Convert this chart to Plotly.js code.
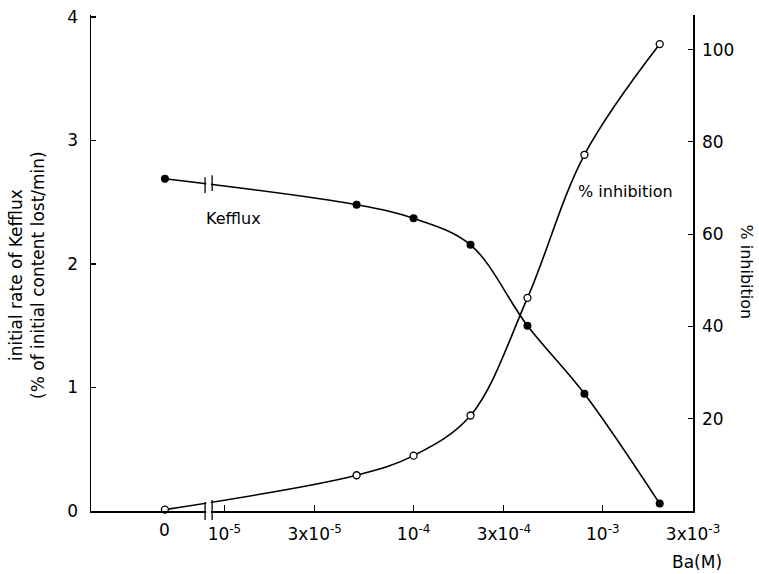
<!DOCTYPE html>
<html>
<head>
<meta charset="utf-8">
<script src="https://cdn.plot.ly/plotly-3.0.1.min.js"></script>
<style>html,body{margin:0;padding:0;background:#fff;}#chart{width:759px;height:574px;}</style>
</head>
<body>
<div id="chart"></div>
<script>
// Ba concentration (M); 0 is drawn left of the axis break
var baConc = [0, 5e-5, 1e-4, 2e-4, 4e-4, 8e-4, 2e-3];
var keffluxRate = [2.69, 2.48, 2.37, 2.155, 1.50, 0.95, 0.06];
var inhibitionPct = [0.3, 7.75, 12.0, 20.7, 46.2, 77.2, 101.2];
var xTickVals = [1e-5, 3e-5, 1e-4, 3e-4, 1e-3, 3e-3];
var xTickText = ['10<sup>-5</sup>', '3x10<sup>-5</sup>', '10<sup>-4</sup>', '3x10<sup>-4</sup>', '10<sup>-3</sup>', '3x10<sup>-3</sup>'];
var leftTicks = [0, 1, 2, 3, 4];
var rightTicks = [20, 40, 60, 80, 100];

// display position used for the zero concentration (left of the break)
var ZERO_POS = 4.85e-6;
var xPlot = baConc.map(function (c) { return c === 0 ? ZERO_POS : c; });

var FONT = 'DejaVu Sans, sans-serif';
var TS = 17;

var traces = [
  {
    x: xPlot, y: keffluxRate, xaxis: 'x', yaxis: 'y',
    mode: 'lines+markers', type: 'scatter', name: 'Kefflux',
    line: {color: '#000', width: 1.6, shape: 'spline', smoothing: 1},
    marker: {symbol: 'circle', size: 8, color: '#000'},
    cliponaxis: false
  },
  {
    x: xPlot, y: inhibitionPct, xaxis: 'x', yaxis: 'y2',
    mode: 'lines+markers', type: 'scatter', name: '% inhibition',
    line: {color: '#000', width: 1.6, shape: 'spline', smoothing: 1},
    marker: {symbol: 'circle', size: 7, color: '#fff', line: {color: '#000', width: 1.3}},
    cliponaxis: false
  }
];

var bx0 = 0.1895, bx1 = 0.2012;
function bar(x, y0, y1) {
  return {type: 'line', xref: 'paper', yref: 'paper', x0: x, x1: x, y0: y0, y1: y1,
          line: {color: '#000', width: 1.3}, layer: 'above'};
}
function gap(y0, y1) {
  return {type: 'rect', xref: 'paper', yref: 'paper', x0: bx0 + 0.002, x1: bx1 - 0.002, y0: y0, y1: y1,
          line: {width: 0}, fillcolor: '#fff', layer: 'above'};
}

var layout = {
  width: 759, height: 574,
  margin: {l: 91, r: 66, t: 15, b: 63},
  paper_bgcolor: '#fff', plot_bgcolor: '#fff',
  showlegend: false,
  font: {family: FONT, size: TS, color: '#000'},
  xaxis: {
    type: 'log', range: [-5.705, -2.523],
    tickvals: xTickVals, ticktext: xTickText,
    ticks: 'inside', ticklen: 6, tickwidth: 1.2, tickcolor: '#000',
    showline: true, linecolor: '#000', linewidth: 1.5,
    showgrid: false, zeroline: false,
    tickfont: {family: FONT, size: TS, color: '#000'},
    ticklabelstandoff: 7
  },
  yaxis: {
    range: [0, 4.016], tickvals: leftTicks,
    ticks: 'inside', ticklen: 5, tickwidth: 1.2, tickcolor: '#000',
    showline: true, linecolor: '#000', linewidth: 1.5,
    showgrid: false, zeroline: false,
    tickfont: {family: FONT, size: TS, color: '#000'},
    ticklabelstandoff: 8
  },
  yaxis2: {
    overlaying: 'y', side: 'right',
    range: [0, 107.5], tickvals: rightTicks,
    ticks: 'inside', ticklen: 5, tickwidth: 1.2, tickcolor: '#000',
    showline: true, linecolor: '#000', linewidth: 1.5,
    showgrid: false, zeroline: false,
    tickfont: {family: FONT, size: TS, color: '#000'},
    ticklabelstandoff: 4
  },
  shapes: [
    gap(0.643, 0.672), gap(-0.01, 0.02),
    bar(bx0, 0.641, 0.673), bar(bx1, 0.645, 0.677),
    bar(bx0, -0.018, 0.018), bar(bx1, -0.018, 0.022)
  ],
  annotations: [
    {text: '0', xref: 'x', yref: 'paper', x: Math.log10(ZERO_POS), y: -0.014,
     xanchor: 'center', yanchor: 'top', showarrow: false, font: {family: FONT, size: TS}},
    {text: 'Ba(M)', xref: 'paper', yref: 'paper', x: 1.006, y: -0.103,
     xanchor: 'center', yanchor: 'middle', showarrow: false, font: {family: FONT, size: TS}},
    {text: 'Kefflux', xref: 'paper', yref: 'paper', x: (204 - 91) / 601.5, y: (511 - 218) / 496,
     xanchor: 'left', yanchor: 'middle', showarrow: false, font: {family: FONT, size: 16}},
    {text: '% inhibition', xref: 'paper', yref: 'paper', x: (576 - 91) / 601.5, y: (511 - 192) / 496,
     xanchor: 'left', yanchor: 'middle', showarrow: false, font: {family: FONT, size: 16}},
    {text: 'initial rate of Kefflux<br>(% of initial content lost/min)', xref: 'paper', yref: 'paper',
     x: (27 - 91) / 601.5, y: (511 - 275) / 496, textangle: -90,
     xanchor: 'center', yanchor: 'middle', showarrow: false, font: {family: FONT, size: 17}},
    {text: '% inhibition', xref: 'paper', yref: 'paper',
     x: (745 - 91) / 601.5, y: (511 - 272) / 496, textangle: 90,
     xanchor: 'center', yanchor: 'middle', showarrow: false, font: {family: FONT, size: 16}}
  ]
};

Plotly.newPlot('chart', traces, layout, {staticPlot: true, displayModeBar: false});
</script>
</body>
</html>
